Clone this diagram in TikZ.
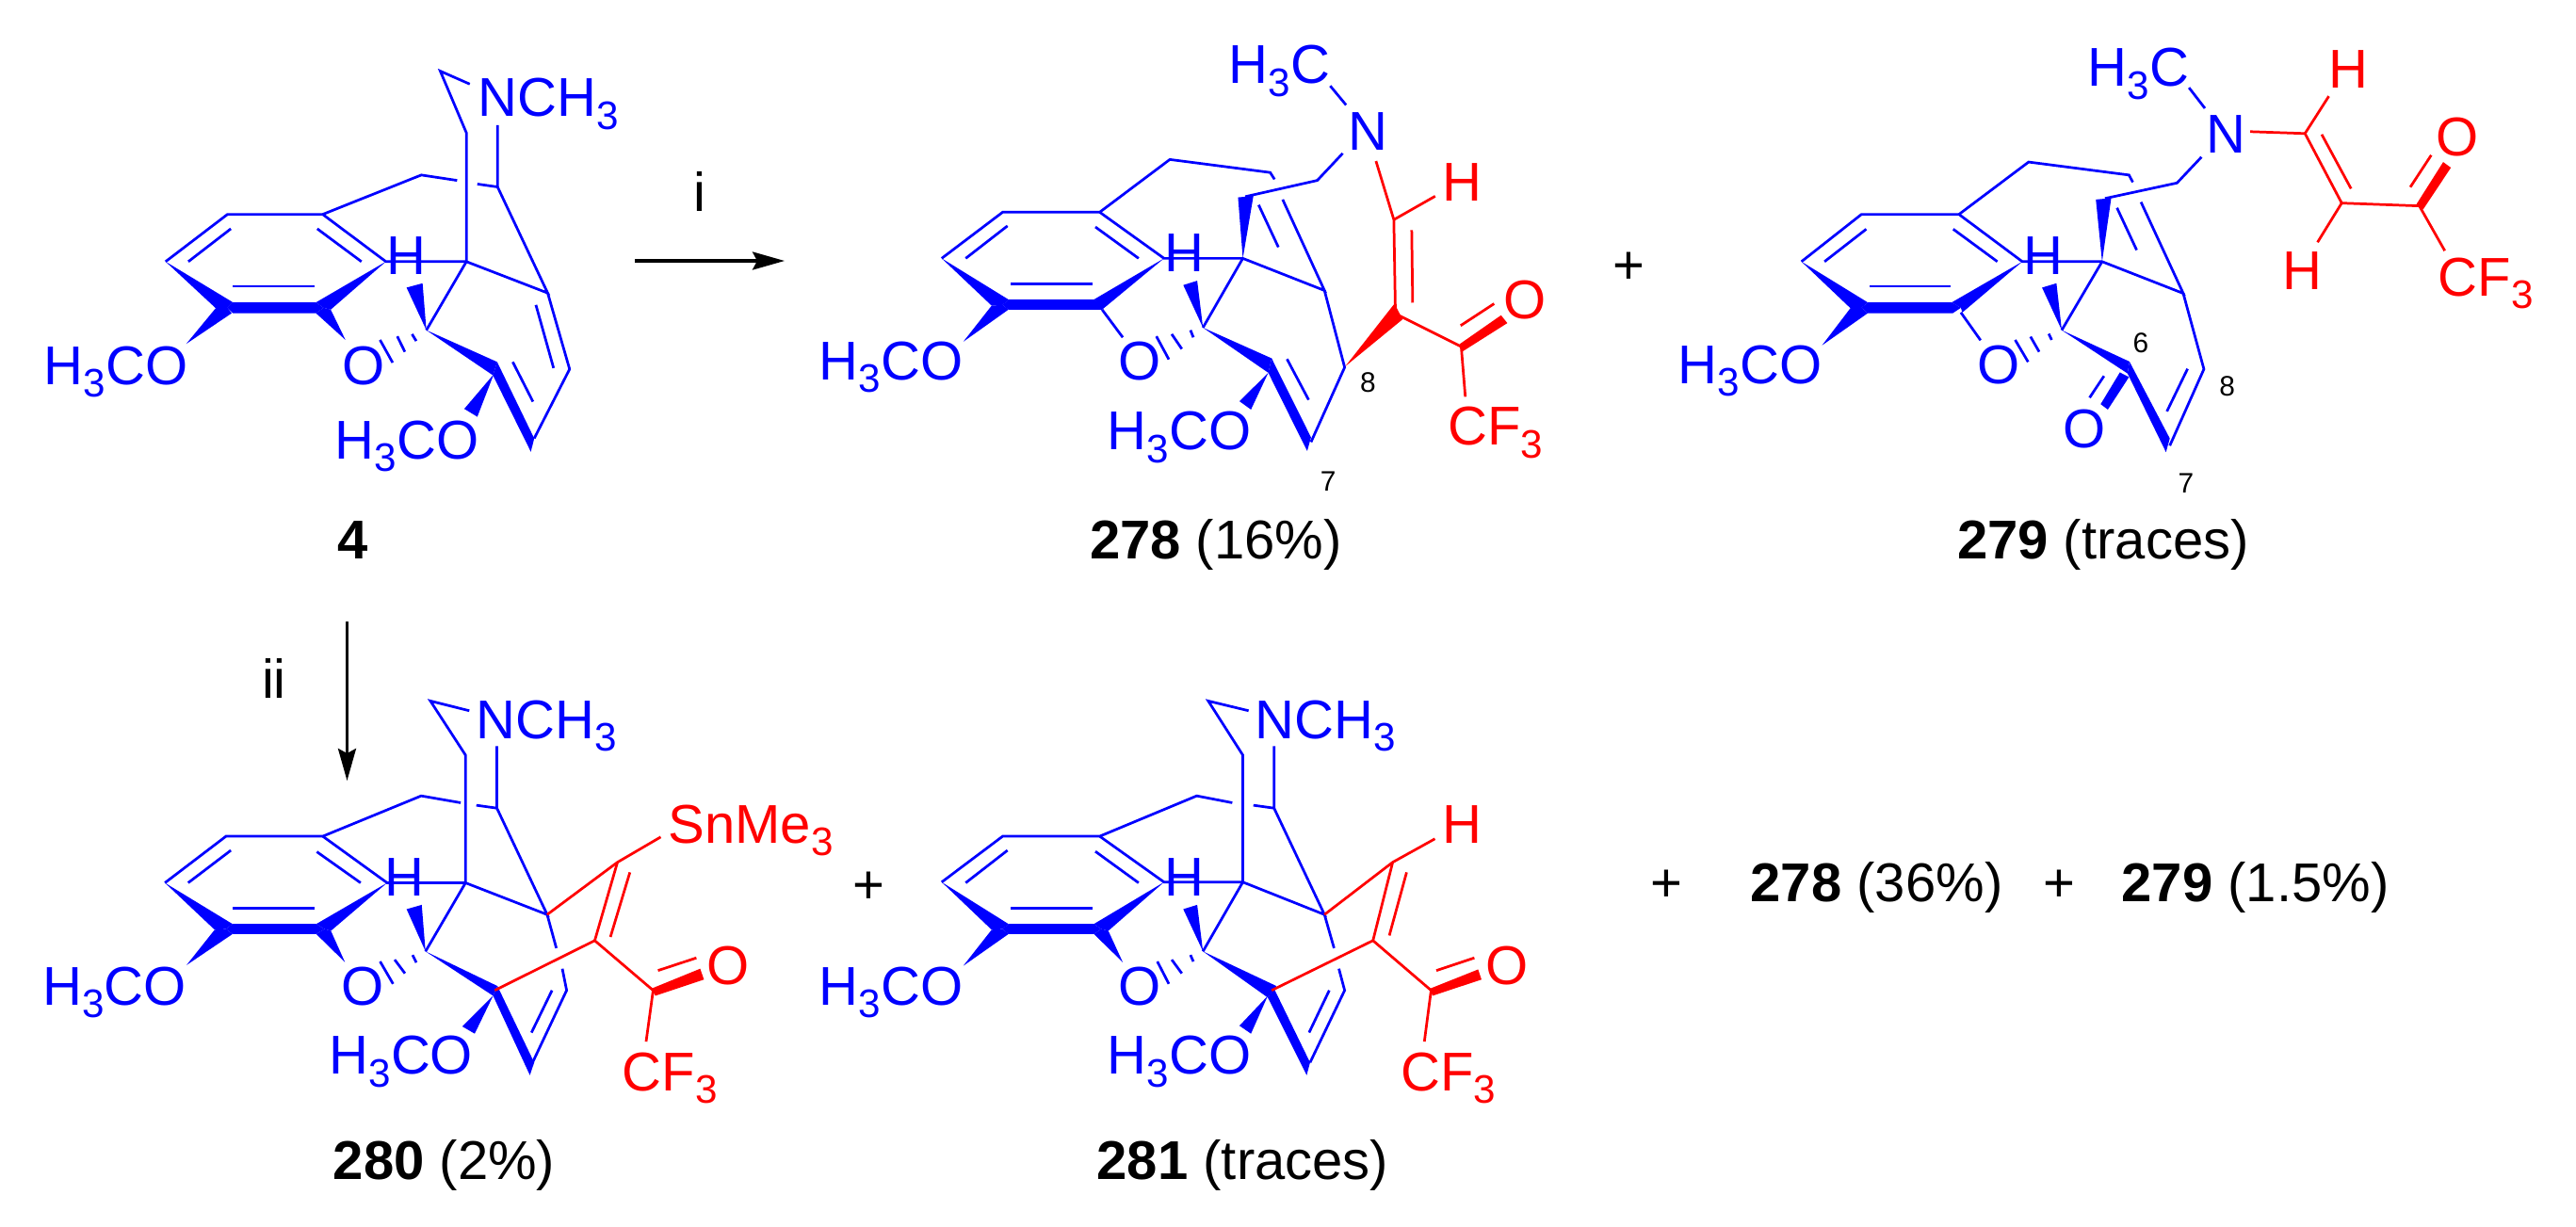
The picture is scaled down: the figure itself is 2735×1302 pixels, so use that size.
\documentclass[tikz,border=0pt]{standalone}
\usepackage{fontspec}
\setmainfont{Liberation Sans}
\usetikzlibrary{arrows.meta}
\newcommand{\sbn}{\raisebox{-3.8pt}{\fontsize{12}{12}\selectfont 3}}
\tikzset{
	bluebond/.style={draw=blue,line width=0.78pt},
	redbond/.style={draw=red,line width=0.78pt},
	bluewedge/.style={fill=blue},
	redwedge/.style={fill=red},
	atom/.style={inner sep=0pt,anchor=base west,text=blue,font=\fontsize{16.5}{18}\selectfont},
	atomred/.style={atom,text=red},
	caption/.style={inner sep=0pt,anchor=base west,font=\fontsize{16.5}{18}\selectfont},
	plus/.style={inner sep=0pt,anchor=base,font=\fontsize{16.5}{18}\selectfont},
	locant/.style={inner sep=0pt,anchor=base west,font=\fontsize{8.5}{10}\selectfont},
	rxnarrow/.style={line width=0.95pt,-{Stealth[length=0.34cm,width=0.19cm,inset=0.05cm]}}
}
\begin{document}
\begin{tikzpicture}[x=0.01cm,y=-0.01cm]
\useasboundingbox (0,0) rectangle (2735,1302);
% arrows and free text
\coordinate (arrowIa) at (674,277);
\coordinate (arrowIb) at (833,277);
\coordinate (arrowIIa) at (368.5,660);
\coordinate (arrowIIb) at (368.5,829);
\draw[rxnarrow] (arrowIa) -- (arrowIb);
\draw[rxnarrow] (arrowIIa) -- (arrowIIb);
\node[plus] (labI) at (743,224) {i};
\node[plus] (labII) at (291,741) {ii};
\node[plus] (plusA) at (1729,301) {+};
\node[plus] (plusB) at (922,959) {+};
\node[plus] (plusC) at (1769,957) {+};
\node[plus] (plusD) at (2186,957) {+};
\node[caption] (yieldA) at (1858,957) {\textbf{278} (36\%)};
\node[caption] (yieldB) at (2252,957) {\textbf{279} (1.5\%)};
% compound 4
\begin{scope}[x=0.004464cm,y=-0.003827cm]
	\draw[bluebond] (1115,233) -- (1045,197) -- (1107,368) -- (1107,725);
	\draw[bluebond] (1181,347) -- (1181,518) -- (1133,510);
	\draw[bluebond] (1085,500) -- (1000,485) -- (766,594) -- (540,594) -- (393,725);
	\draw[bluebond] (766,594) -- (916,725) -- (1107,725) -- (1300,812) -- (1181,518);
	\draw[bluebond] (1107,725) -- (1012,915);
	\draw[bluebond] (1300,812) -- (1352,1023) -- (1268,1215);
	\draw[bluebond] (447,725) -- (548,634);
	\draw[bluebond] (753,634) -- (858,725);
	\draw[bluebond] (553,793) -- (747,793);
	\draw[bluebond] (1272,845) -- (1314,1020);
	\draw[bluebond] (1217,1003) -- (1265,1113);
	\fill[bluewedge] (393,725) -- (553,838) -- (540,853) -- (512,854) -- cycle;
	\fill[bluewedge] (916,725) -- (750,838) -- (768,853) -- (785,858) -- cycle;
	\fill[bluewedge] (553,838) -- (750,838) -- (768,853) -- (750,868) -- (553,868) -- (540,853) -- cycle;
	\fill[bluewedge] (442,953) -- (512,854) -- (540,853) -- (550,868) -- cycle;
	\fill[bluewedge] (820,942) -- (785,858) -- (768,853) -- (750,868) -- cycle;
	\fill[bluewedge] (1012,915) -- (965,797) -- (1003,785) -- cycle;
	\fill[bluewedge] (1012,915) -- (1180,1003) -- (1170,1040) -- cycle;
	\fill[bluewedge] (1180,1003) -- (1268,1215) -- (1260,1252) -- (1170,1040) -- cycle;
	\fill[bluewedge] (1172,1037) -- (1102,1133) -- (1133,1155) -- cycle;
	\draw[bluebond] (978,926) -- (988,945);
	\draw[bluebond] (943,932) -- (961,975);
	\draw[bluebond] (902,942) -- (932,1005);
	\node[atom] (nchA) at (1134,323) {NCH\sbn};
	\node[atom] (meoA) at (103,1065) {H\sbn CO};
	\node[atom] (meoAb) at (794,1272) {H\sbn CO};
	\node[atom] (oxyA) at (812,1065) {O};
	\node[atom] (hydA) at (916,760) {H};
	\node[caption] (capA) at (800,1549) {\textbf{4}};
\end{scope}
% compound 278
\begin{scope}[shift={(830,0)},x=0.005102cm,y=-0.003827cm]
	\draw[bluebond] (1142,238) -- (1175,291);
	\draw[bluebond] (1168,425) -- (1115,500) -- (965,545);
	\draw[bluebond] (1026,497) -- (1017,478) -- (808,442) -- (662,588) -- (460,588) -- (333,716);
	\draw[bluebond] (662,588) -- (796,716) -- (960,716) -- (1130,805) -- (1043,553);
	\draw[bluebond] (960,716) -- (877,908);
	\draw[bluebond] (1130,805) -- (1172,1018) -- (1102,1225);
	\draw[bluebond] (383,716) -- (470,626);
	\draw[bluebond] (653,629) -- (743,716);
	\draw[bluebond] (477,787) -- (647,787);
	\draw[bluebond] (993,568) -- (1034,685);
	\draw[bluebond] (1052,995) -- (1097,1108);
	\draw[bluebond] (667,858) -- (710,935);
	\fill[bluewedge] (960,716) -- (950,547) -- (982,543) -- cycle;
	\fill[bluewedge] (333,716) -- (472,830) -- (460,845) -- (437,847) -- cycle;
	\fill[bluewedge] (796,716) -- (650,830) -- (663,845) -- (667,858) -- cycle;
	\fill[bluewedge] (472,830) -- (650,830) -- (667,845) -- (667,858) -- (472,858) -- (460,845) -- cycle;
	\fill[bluewedge] (378,947) -- (437,847) -- (460,845) -- (472,858) -- cycle;
	\fill[bluewedge] (877,908) -- (836,790) -- (865,778) -- cycle;
	\fill[bluewedge] (877,908) -- (1020,993) -- (1013,1033) -- cycle;
	\fill[bluewedge] (1020,993) -- (1102,1212) -- (1094,1250) -- (1013,1033) -- cycle;
	\fill[bluewedge] (1013,1033) -- (953,1112) -- (977,1135) -- cycle;
	\draw[bluebond] (851,915) -- (857,935);
	\draw[bluebond] (812,926) -- (833,967);
	\draw[bluebond] (780,932) -- (806,996);
	\node[atom] (mecB) at (930,232) {H\sbn C};
	\node[atom] (nitB) at (1179,417) {N};
	\node[atom] (meoB) at (77,1053) {H\sbn CO};
	\node[atom] (meoBb) at (677,1247) {H\sbn CO};
	\node[atom] (oxyB) at (700,1053) {O};
	\node[atom] (hydB) at (795,752) {H};
	\node[atomred] (hydBr) at (1375,557) {H};
	\node[locant] (locBe) at (1203,1088) {8};
	\node[locant] (locBg) at (1120,1360) {7};
	\node[caption] (capB) at (640,1550) {\textbf{278} (16\%)};
\end{scope}
\begin{scope}[shift={(1400,200)},x=0.003333cm,y=-0.003333cm]
	\draw[redbond] (183,-87) -- (240,100) -- (245,400) -- (455,505) -- (468,665);
	\draw[redbond] (240,100) -- (372,25);
	\draw[redbond] (297,133) -- (300,365);
	\draw[redbond] (453,438) -- (560,368);
	\fill[redwedge] (85,568) -- (242,368) -- (268,418) -- cycle;
	\fill[redwedge] (450,497) -- (582,405) -- (602,430) -- (460,520) -- cycle;
	\node[atomred] (oxyBr) at (587,415) {O};
	\node[atomred] (cftB) at (410,820) {CF\sbn};
\end{scope}
% compound 279
\begin{scope}[shift={(1650,0)},x=0.005102cm,y=-0.003827cm]
	\draw[bluebond] (1322,243) -- (1355,300);
	\draw[bluebond] (1348,435) -- (1297,507) -- (1147,550);
	\draw[bluebond] (1205,505) -- (1197,485) -- (988,449) -- (843,594) -- (640,594) -- (515,725);
	\draw[bluebond] (843,594) -- (975,725) -- (1141,725) -- (1310,813) -- (1222,560);
	\draw[bluebond] (1141,725) -- (1057,915);
	\draw[bluebond] (1310,813) -- (1353,1023) -- (1282,1235);
	\draw[bluebond] (563,725) -- (650,635);
	\draw[bluebond] (831,635) -- (923,725);
	\draw[bluebond] (657,793) -- (825,793);
	\draw[bluebond] (1172,576) -- (1213,693);
	\draw[bluebond] (1319,1022) -- (1276,1140);
	\draw[bluebond] (847,866) -- (888,943);
	\draw[bluebond] (1145,1042) -- (1115,1102);
	\fill[bluewedge] (1141,725) -- (1128,553) -- (1160,549) -- cycle;
	\fill[bluewedge] (515,725) -- (653,838) -- (640,853) -- (617,854) -- cycle;
	\fill[bluewedge] (975,725) -- (828,838) -- (847,853) -- (850,866) -- cycle;
	\fill[bluewedge] (653,838) -- (828,838) -- (847,853) -- (830,868) -- (653,868) -- (640,853) -- cycle;
	\fill[bluewedge] (558,957) -- (617,854) -- (640,853) -- (653,868) -- cycle;
	\fill[bluewedge] (1057,915) -- (1016,797) -- (1046,785) -- cycle;
	\fill[bluewedge] (1057,915) -- (1198,1002) -- (1194,1035) -- cycle;
	\fill[bluewedge] (1198,1002) -- (1282,1215) -- (1274,1253) -- (1194,1035) -- cycle;
	\fill[bluewedge] (1178,1032) -- (1197,1045) -- (1153,1135) -- (1138,1120) -- cycle;
	\draw[bluebond] (1030,925) -- (1036,942);
	\draw[bluebond] (992,933) -- (1010,975);
	\draw[bluebond] (960,942) -- (987,1003);
	\node[atom] (mecC) at (1110,240) {H\sbn C};
	\node[atom] (nitC) at (1357,423) {N};
	\node[atom] (meoC) at (257,1063) {H\sbn CO};
	\node[atom] (oxyC) at (880,1063) {O};
	\node[atom] (oxyCb) at (1058,1240) {O};
	\node[atom] (hydC) at (977,760) {H};
	\node[locant] (locCf) at (1204,978) {6};
	\node[locant] (locCe) at (1384,1097) {8};
	\node[locant] (locCg) at (1298,1365) {7};
	\node[caption] (capC) at (838,1548) {\textbf{279} (traces)};
\end{scope}
\begin{scope}[shift={(2200,0)},x=0.003413cm,y=-0.003333cm]
	\draw[redbond] (553,420) -- (723,426) -- (837,648) -- (1078,657) -- (1157,800);
	\draw[redbond] (723,426) -- (797,307);
	\draw[redbond] (837,648) -- (762,773);
	\draw[redbond] (775,429) -- (866,602);
	\draw[redbond] (1050,597) -- (1115,495);
	\fill[redwedge] (1067,655) -- (1152,517) -- (1176,535) -- (1090,668) -- cycle;
	\node[atomred] (hydCa) at (795,282) {H};
	\node[atomred] (hydCb) at (650,925) {H};
	\node[atomred] (oxyCr) at (1127,497) {O};
	\node[atomred] (cftC) at (1135,945) {CF\sbn};
\end{scope}
% compound 280
\begin{scope}[shift={(0,680)},x=0.005741cm,y=-0.003827cm]
	\draw[bluebond] (868,195) -- (796,168) -- (861,318) -- (861,672);
	\draw[bluebond] (919,293) -- (919,465) -- (881,457);
	\draw[bluebond] (852,450) -- (779,431) -- (597,543) -- (418,543) -- (305,672);
	\draw[bluebond] (597,543) -- (716,672) -- (861,672) -- (1012,760) -- (919,465);
	\draw[bluebond] (861,672) -- (787,862);
	\draw[bluebond] (1012,760) -- (1029,853);
	\draw[bluebond] (1040,910) -- (1048,970) -- (985,1170);
	\draw[bluebond] (348,672) -- (427,582);
	\draw[bluebond] (586,586) -- (667,672);
	\draw[bluebond] (431,742) -- (581,742);
	\draw[bluebond] (1021,970) -- (983,1087);
	\fill[bluewedge] (305,672) -- (430,786) -- (418,800) -- (397,802) -- cycle;
	\fill[bluewedge] (716,672) -- (585,786) -- (600,800) -- (612,805) -- cycle;
	\fill[bluewedge] (430,786) -- (585,786) -- (600,800) -- (585,814) -- (430,814) -- (418,800) -- cycle;
	\fill[bluewedge] (345,900) -- (397,802) -- (418,800) -- (430,814) -- cycle;
	\fill[bluewedge] (638,892) -- (612,805) -- (600,800) -- (585,814) -- cycle;
	\fill[bluewedge] (787,862) -- (752,745) -- (780,733) -- cycle;
	\fill[bluewedge] (787,862) -- (920,958) -- (912,985) -- cycle;
	\fill[bluewedge] (920,958) -- (988,1170) -- (980,1205) -- (912,985) -- cycle;
	\fill[bluewedge] (912,985) -- (855,1070) -- (878,1090) -- cycle;
	\draw[bluebond] (763,872) -- (770,893);
	\draw[bluebond] (730,885) -- (749,923);
	\draw[bluebond] (703,890) -- (727,952);
	\draw[redbond] (1012,760) -- (1142,615) -- (1222,545);
	\draw[redbond] (1142,615) -- (1100,832) -- (915,970);
	\draw[redbond] (1100,832) -- (1208,970) -- (1195,1112);
	\draw[redbond] (1165,643) -- (1129,822);
	\draw[redbond] (1217,915) -- (1288,880);
	\fill[redwedge] (1205,965) -- (1295,910) -- (1302,940) -- (1212,985) -- cycle;
	\node[atom] (nchD) at (880,272) {NCH\sbn};
	\node[atom] (meoD) at (78,1010) {H\sbn CO};
	\node[atom] (meoDb) at (608,1203) {H\sbn CO};
	\node[atom] (oxyD) at (630,1010) {O};
	\node[atom] (hydD) at (711,708) {H};
	\node[atomred] (snD) at (1235,562) {SnMe\sbn};
	\node[atomred] (oxyDr) at (1307,955) {O};
	\node[atomred] (cftD) at (1150,1248) {CF\sbn};
	\node[caption] (capD) at (615,1493) {\textbf{280} (2\%)};
\end{scope}
% compound 281
\begin{scope}[shift={(830,680)},x=0.005102cm,y=-0.003827cm]
	\draw[bluebond] (972,195) -- (888,168) -- (960,318) -- (960,670);
	\draw[bluebond] (1025,293) -- (1025,465) -- (982,457);
	\draw[bluebond] (938,450) -- (864,431) -- (662,543) -- (460,543) -- (333,670);
	\draw[bluebond] (662,543) -- (796,670) -- (960,670) -- (1130,760) -- (1025,465);
	\draw[bluebond] (960,670) -- (877,862);
	\draw[bluebond] (1130,760) -- (1150,853);
	\draw[bluebond] (1160,910) -- (1172,970) -- (1100,1170);
	\draw[bluebond] (383,672) -- (470,582);
	\draw[bluebond] (653,585) -- (743,672);
	\draw[bluebond] (477,742) -- (647,742);
	\draw[bluebond] (1140,970) -- (1098,1087);
	\fill[bluewedge] (333,670) -- (472,786) -- (460,800) -- (437,802) -- cycle;
	\fill[bluewedge] (796,670) -- (650,786) -- (665,800) -- (680,805) -- cycle;
	\fill[bluewedge] (472,786) -- (650,786) -- (665,800) -- (650,814) -- (472,814) -- (460,800) -- cycle;
	\fill[bluewedge] (378,902) -- (437,802) -- (460,800) -- (472,814) -- cycle;
	\fill[bluewedge] (710,892) -- (680,805) -- (665,800) -- (650,814) -- cycle;
	\fill[bluewedge] (877,862) -- (836,745) -- (865,733) -- cycle;
	\fill[bluewedge] (877,862) -- (1030,958) -- (1012,990) -- cycle;
	\fill[bluewedge] (1025,965) -- (1100,1170) -- (1093,1205) -- (1012,990) -- cycle;
	\fill[bluewedge] (1012,985) -- (953,1068) -- (977,1090) -- cycle;
	\draw[bluebond] (851,872) -- (857,890);
	\draw[bluebond] (812,885) -- (833,923);
	\draw[bluebond] (782,890) -- (806,952);
	\draw[redbond] (1130,760) -- (1272,615) -- (1360,550);
	\draw[redbond] (1272,615) -- (1231,832) -- (1020,970);
	\draw[redbond] (1231,832) -- (1352,970) -- (1338,1112);
	\draw[redbond] (1301,643) -- (1265,818);
	\draw[redbond] (1363,915) -- (1442,880);
	\fill[redwedge] (1350,965) -- (1450,912) -- (1457,940) -- (1355,985) -- cycle;
	\node[atom] (nchE) at (985,272) {NCH\sbn};
	\node[atom] (meoE) at (77,1010) {H\sbn CO};
	\node[atom] (meoEb) at (677,1203) {H\sbn CO};
	\node[atom] (oxyE) at (700,1010) {O};
	\node[atom] (hydE) at (795,708) {H};
	\node[atomred] (hydEr) at (1375,562) {H};
	\node[atomred] (oxyEr) at (1465,955) {O};
	\node[atomred] (cftE) at (1288,1248) {CF\sbn};
	\node[caption] (capE) at (655,1493) {\textbf{281} (traces)};
\end{scope}
\end{tikzpicture}
\end{document}
